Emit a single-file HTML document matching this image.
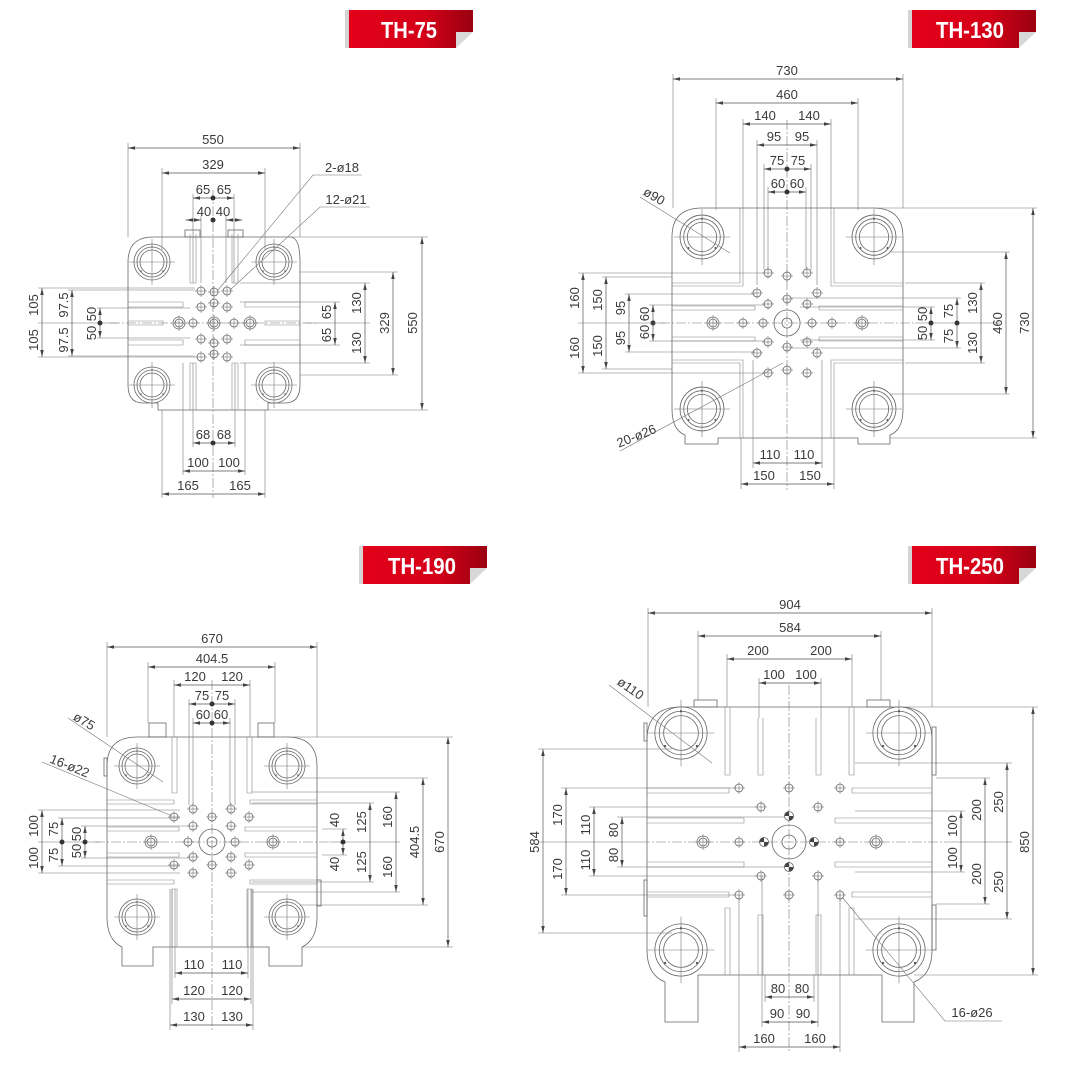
<!DOCTYPE html>
<html><head><meta charset="utf-8"><style>
html,body{margin:0;padding:0;background:#fff}
svg{display:block}
.l{stroke:#666;stroke-width:.8;fill:none}
.e{stroke:#777;stroke-width:.6;fill:none}
.c{stroke:#777;stroke-width:.6;fill:none;stroke-dasharray:10 2 2 2}
.d{stroke:#555;stroke-width:.7;fill:none;marker-start:url(#a);marker-end:url(#a)}
.s{stroke:#888;stroke-width:.6;fill:none}
text.t{font-family:"Liberation Sans",sans-serif;font-size:13px;fill:#3a3a3a;text-anchor:middle}
text.b{font-family:"Liberation Sans",sans-serif;font-weight:bold;font-size:23px;fill:#fff;text-anchor:middle}
.nv *{vector-effect:non-scaling-stroke}
</style></head><body>
<svg width="1070" height="1079" viewBox="0 0 1070 1079" xmlns="http://www.w3.org/2000/svg">
<defs>
<marker id="a" viewBox="0 0 10 10" refX="10" refY="5" markerWidth="7" markerHeight="7" markerUnits="userSpaceOnUse" orient="auto-start-reverse"><path d="M0,2.5 L10,5 L0,7.5z" fill="#444"/></marker>
<linearGradient id="rg" x1="0" x2="1" y1="0" y2="0"><stop offset="0" stop-color="#e2001a"/><stop offset=".6" stop-color="#d40018"/><stop offset="1" stop-color="#9a0010"/></linearGradient>
<g id="bn"><rect x="0" y="0" width="4" height="38" fill="#d4d4d4"/><polygon points="4,0 128,0 128,22 111,22 111,38 4,38" fill="url(#rg)"/><polygon points="111,22 128,22 111,38" fill="#d8d8d8"/></g>
<g id="tb" class="nv"><circle r="18" class="l"/><circle r="15" class="l"/><circle r="12" class="l"/><line x1="-23" x2="23" class="e"/><line y1="-23" y2="23" class="e"/><circle cx="-11" cy="9" r=".8" fill="#555"/><circle cx="11" cy="9" r=".8" fill="#555"/><circle cx="0" cy="-15" r=".8" fill="#555"/></g>
<g id="h"><circle r="4" class="l"/><line x1="-6" x2="6" class="e"/><line y1="-6" y2="6" class="e"/></g>
<g id="bo"><circle r="6" class="l"/><circle r="4" class="l"/><line x1="-8" x2="8" class="e"/><line y1="-8" y2="8" class="e"/></g>
<g id="q"><circle r="4.5" class="l"/><path d="M0,0 L4.5,0 A4.5,4.5 0 0 1 0,4.5Z M0,0 L-4.5,0 A4.5,4.5 0 0 1 0,-4.5Z" fill="#444"/></g>
</defs>

<!-- ================= TH-75 ================= -->
<use href="#bn" x="345" y="10"/>
<text class="b" x="409" y="38" textLength="56" lengthAdjust="spacingAndGlyphs">TH-75</text>
<path class="l" d="M153,237 H290 Q300,237 300,262 V385 Q300,403 285,403 H268 V410 H158 V403 H143 Q128,403 128,385 V262 Q128,237 153,237 Z"/>
<rect class="l" x="185" y="230" width="15" height="7"/><rect class="l" x="228" y="230" width="15" height="7"/>
<path class="s" d="M190,234 V283 H196 V234 M232,234 V283 H238 V234 M190,410 V363 H196 V410 M232,410 V363 H238 V410"/>
<path class="s" d="M128,302 H183 V307 H128 M128,340 H183 V345 H128 M128,321 H163 V325 H128 M300,302 H245 V307 H300 M300,340 H245 V345 H300 M300,321 H265 V325 H300"/>
<use href="#tb" x="152" y="262"/><use href="#tb" x="274" y="262"/><use href="#tb" x="152" y="385"/><use href="#tb" x="274" y="385"/>
<line class="c" x1="213" y1="190" x2="213" y2="498"/><line class="c" x1="110" y1="323" x2="318" y2="323"/>
<use href="#h" x="201" y="291"/><use href="#h" x="214" y="292"/><use href="#h" x="227" y="291"/>
<use href="#h" x="201" y="307"/><use href="#h" x="214" y="303"/><use href="#h" x="227" y="307"/>
<use href="#bo" x="179" y="323"/><use href="#h" x="193" y="323"/><use href="#bo" x="214" y="323"/><use href="#h" x="234" y="323"/><use href="#bo" x="250" y="323"/>
<use href="#h" x="201" y="339"/><use href="#h" x="214" y="343"/><use href="#h" x="227" y="339"/>
<use href="#h" x="201" y="357"/><use href="#h" x="214" y="354"/><use href="#h" x="227" y="357"/>
<path class="e" d="M128,237 V143 M300,237 V143 M162,250 V168 M265,250 V168 M193,283 V194 M234,283 V194 M201,283 V216 M226,283 V216 M185,220 H201 M226,220 H242"/>
<line class="d" x1="128" y1="148" x2="300" y2="148"/><text class="t" x="213" y="144">550</text>
<line class="d" x1="162" y1="173" x2="265" y2="173"/><text class="t" x="213" y="169">329</text>
<line class="d" x1="193" y1="198" x2="234" y2="198"/><circle cx="213" cy="198" r="2.5" fill="#333"/><text class="t" x="203" y="194">65</text><text class="t" x="224" y="194">65</text>
<line class="d" x1="186" y1="220" x2="201" y2="220"/><line class="d" x1="242" y1="220" x2="226" y2="220"/><circle cx="213" cy="220" r="2.5" fill="#333"/><text class="t" x="204" y="216">40</text><text class="t" x="223" y="216">40</text>
<path class="e" d="M162,410 V498 M265,410 V498 M183,363 V475 M245,363 V475 M193,363 V447 M235,363 V447"/>
<line class="d" x1="193" y1="443" x2="235" y2="443"/><circle cx="213" cy="443" r="2.5" fill="#333"/><text class="t" x="203" y="439">68</text><text class="t" x="224" y="439">68</text>
<line class="d" x1="183" y1="471" x2="245" y2="471"/><text class="t" x="198" y="467">100</text><text class="t" x="229" y="467">100</text>
<line class="d" x1="162" y1="494" x2="265" y2="494"/><text class="t" x="188" y="490">165</text><text class="t" x="240" y="490">165</text>
<path class="e" d="M290,237 H428 M300,272 H398 M240,283 H370 M240,302 H340 M305,323 H370 M240,345 H340 M240,363 H370 M300,375 H398 M268,410 H428"/>
<line class="d" x1="422" y1="237" x2="422" y2="410"/><text class="t" transform="translate(417,323) rotate(-90)">550</text>
<line class="d" x1="393" y1="272" x2="393" y2="375"/><text class="t" transform="translate(389,323) rotate(-90)">329</text>
<line class="d" x1="365" y1="283" x2="365" y2="363"/><text class="t" transform="translate(361,303) rotate(-90)">130</text><text class="t" transform="translate(361,343) rotate(-90)">130</text>
<line class="d" x1="335" y1="302" x2="335" y2="345"/><text class="t" transform="translate(331,312) rotate(-90)">65</text><text class="t" transform="translate(331,335) rotate(-90)">65</text>
<path class="e" d="M38,288 H195 M38,357 H195 M68,290 H195 M68,356 H195 M97,308 H190 M97,338 H190 M38,323 H118"/>
<line class="d" x1="42" y1="288" x2="42" y2="357"/><text class="t" transform="translate(38,305) rotate(-90)">105</text><text class="t" transform="translate(38,340) rotate(-90)">105</text>
<line class="d" x1="72" y1="290" x2="72" y2="356"/><text class="t" transform="translate(68,305) rotate(-90)">97.5</text><text class="t" transform="translate(68,340) rotate(-90)">97.5</text>
<line class="d" x1="100" y1="308" x2="100" y2="338"/><circle cx="100" cy="323" r="2.5" fill="#333"/><text class="t" transform="translate(96,314) rotate(-90)">50</text><text class="t" transform="translate(96,333) rotate(-90)">50</text>
<path class="e" d="M362,175 H313 L218,290 M370,207 H320 L230,290"/>
<text class="t" x="342" y="172">2-ø18</text><text class="t" x="346" y="204">12-ø21</text>

<!-- ================= TH-130 ================= -->
<use href="#bn" x="908" y="10"/>
<text class="b" x="970" y="38" textLength="68" lengthAdjust="spacingAndGlyphs">TH-130</text>
<path class="l" d="M702,208 H873 Q903,208 903,237 V409 Q903,430 890,435 V444 H858 V438 H718 V444 H685 V435 Q672,430 672,409 V237 Q672,208 702,208 Z"/>
<path class="s" d="M740,208 V283 H672 M743,208 V286 H672 M834,208 V283 H903 M831,208 V286 H903 M740,438 V363 H672 M743,438 V360 H672 M834,438 V363 H903 M831,438 V360 H903"/>
<path class="s" d="M672,306 H755 V310 H672 M672,337 H755 V341 H672 M903,306 H819 V310 H903 M903,337 H819 V341 H903"/>
<g transform="translate(702,237) scale(1.22)"><use href="#tb"/></g><g transform="translate(874,237) scale(1.22)"><use href="#tb"/></g>
<g transform="translate(702,409) scale(1.22)"><use href="#tb"/></g><g transform="translate(874,409) scale(1.22)"><use href="#tb"/></g>
<line class="c" x1="787" y1="120" x2="787" y2="490"/><line class="c" x1="660" y1="323" x2="915" y2="323"/>
<circle cx="787" cy="323" r="13" class="l"/><circle cx="787" cy="323" r="5" class="l"/>
<use href="#h" x="768" y="273"/><use href="#h" x="787" y="276"/><use href="#h" x="807" y="273"/>
<use href="#h" x="757" y="293"/><use href="#h" x="817" y="293"/>
<use href="#h" x="768" y="304"/><use href="#h" x="787" y="299"/><use href="#h" x="807" y="304"/>
<use href="#h" x="743" y="323"/><use href="#h" x="763" y="323"/><use href="#h" x="812" y="323"/><use href="#h" x="832" y="323"/>
<use href="#bo" x="713" y="323"/><use href="#bo" x="862" y="323"/>
<use href="#h" x="768" y="342"/><use href="#h" x="787" y="347"/><use href="#h" x="807" y="342"/>
<use href="#h" x="757" y="353"/><use href="#h" x="817" y="353"/>
<use href="#h" x="768" y="373"/><use href="#h" x="787" y="370"/><use href="#h" x="807" y="373"/>
<path class="e" d="M673,208 V74 M903,208 V74 M716,210 V98 M858,210 V98 M743,208 V119 M831,208 V119 M757,285 V140 M817,285 V140 M764,270 V164 M811,270 V164 M768,270 V187 M806,270 V187"/>
<line class="d" x1="673" y1="79" x2="903" y2="79"/><text class="t" x="787" y="75">730</text>
<line class="d" x1="716" y1="103" x2="858" y2="103"/><text class="t" x="787" y="99">460</text>
<line class="d" x1="743" y1="124" x2="831" y2="124"/><text class="t" x="765" y="120">140</text><text class="t" x="809" y="120">140</text>
<line class="d" x1="757" y1="145" x2="817" y2="145"/><text class="t" x="774" y="141">95</text><text class="t" x="802" y="141">95</text>
<line class="d" x1="764" y1="169" x2="811" y2="169"/><circle cx="787" cy="169" r="2.5" fill="#333"/><text class="t" x="777" y="165">75</text><text class="t" x="798" y="165">75</text>
<line class="d" x1="768" y1="192" x2="806" y2="192"/><circle cx="787" cy="192" r="2.5" fill="#333"/><text class="t" x="778" y="188">60</text><text class="t" x="797" y="188">60</text>
<path class="e" d="M741,438 V489 M834,438 V489 M753,360 V468 M822,360 V468"/>
<line class="d" x1="753" y1="463" x2="822" y2="463"/><text class="t" x="770" y="459">110</text><text class="t" x="804" y="459">110</text>
<line class="d" x1="741" y1="484" x2="834" y2="484"/><text class="t" x="764" y="480">150</text><text class="t" x="810" y="480">150</text>
<path class="e" d="M873,208 H1037 M890,438 H1037 M890,252 H1010 M890,394 H1010 M905,283 H985 M905,363 H985 M790,298 H961 M790,348 H961 M800,307 H935 M800,340 H935 M915,323 H1000"/>
<line class="d" x1="1033" y1="208" x2="1033" y2="438"/><text class="t" transform="translate(1029,323) rotate(-90)">730</text>
<line class="d" x1="1006" y1="252" x2="1006" y2="394"/><text class="t" transform="translate(1002,323) rotate(-90)">460</text>
<line class="d" x1="981" y1="283" x2="981" y2="363"/><text class="t" transform="translate(977,303) rotate(-90)">130</text><text class="t" transform="translate(977,343) rotate(-90)">130</text>
<line class="d" x1="957" y1="298" x2="957" y2="348"/><circle cx="957" cy="323" r="2.5" fill="#333"/><text class="t" transform="translate(953,311) rotate(-90)">75</text><text class="t" transform="translate(953,336) rotate(-90)">75</text>
<line class="d" x1="931" y1="307" x2="931" y2="340"/><circle cx="931" cy="323" r="2.5" fill="#333"/><text class="t" transform="translate(927,314) rotate(-90)">50</text><text class="t" transform="translate(927,333) rotate(-90)">50</text>
<path class="e" d="M578,273 H765 M578,373 H765 M602,277 H672 M602,369 H672 M625,294 H755 M625,352 H755 M649,305 H765 M649,341 H765"/>
<line class="d" x1="583" y1="273" x2="583" y2="373"/><text class="t" transform="translate(579,298) rotate(-90)">160</text><text class="t" transform="translate(579,348) rotate(-90)">160</text>
<line class="d" x1="606" y1="277" x2="606" y2="369"/><text class="t" transform="translate(602,300) rotate(-90)">150</text><text class="t" transform="translate(602,346) rotate(-90)">150</text>
<line class="d" x1="629" y1="294" x2="629" y2="352"/><text class="t" transform="translate(625,308) rotate(-90)">95</text><text class="t" transform="translate(625,338) rotate(-90)">95</text>
<line class="d" x1="653" y1="305" x2="653" y2="341"/><circle cx="653" cy="323" r="2.5" fill="#333"/><text class="t" transform="translate(649,314) rotate(-90)">60</text><text class="t" transform="translate(649,332) rotate(-90)">60</text>
<line class="e" x1="578" y1="323" x2="665" y2="323"/>
<path class="e" d="M640,197 L730,253 M620,451 L783,363"/>
<text class="t" transform="translate(652,200) rotate(30)">ø90</text>
<text class="t" transform="translate(638,440) rotate(-22)">20-ø26</text>

<!-- ================= TH-190 ================= -->
<use href="#bn" x="359" y="546"/>
<text class="b" x="422" y="574" textLength="68" lengthAdjust="spacingAndGlyphs">TH-190</text>
<path class="l" d="M137,737 H287 Q317,737 317,766 V917 Q317,940 302,947 V966 H269 V947 H153 V966 H122 V947 Q107,940 107,917 V766 Q107,737 137,737 Z"/>
<rect class="l" x="149" y="723" width="17" height="14"/><rect class="l" x="258" y="723" width="16" height="14"/>
<rect class="l" x="104" y="758" width="3" height="18"/><rect class="l" x="317" y="880" width="4" height="26"/>
<path class="s" d="M172,737 V793 H177 V737 M247,737 V793 H252 V737 M172,947 V889 H177 V947 M247,947 V889 H252 V947"/>
<path class="s" d="M107,800 H174 V804 H107 M107,827 H179 V831 H107 M107,853 H179 V857 H107 M107,880 H174 V884 H107 M317,800 H250 V804 H317 M317,827 H245 V831 H317 M317,853 H245 V857 H317 M317,880 H250 V884 H317"/>
<use href="#tb" x="137" y="766"/><use href="#tb" x="287" y="766"/><use href="#tb" x="137" y="917"/><use href="#tb" x="287" y="917"/>
<line class="c" x1="212" y1="680" x2="212" y2="1030"/><line class="c" x1="95" y1="842" x2="330" y2="842"/>
<circle cx="212" cy="842" r="13" class="l"/><circle cx="212" cy="842" r="5" class="l"/>
<use href="#h" x="193" y="809"/><use href="#h" x="231" y="809"/>
<use href="#h" x="174" y="817"/><use href="#h" x="212" y="817"/><use href="#h" x="249" y="817"/>
<use href="#h" x="193" y="826"/><use href="#h" x="231" y="826"/>
<use href="#h" x="188" y="842"/><use href="#h" x="235" y="842"/><use href="#bo" x="151" y="842"/><use href="#bo" x="273" y="842"/>
<use href="#h" x="193" y="857"/><use href="#h" x="231" y="857"/>
<use href="#h" x="174" y="865"/><use href="#h" x="212" y="865"/><use href="#h" x="249" y="865"/>
<use href="#h" x="193" y="873"/><use href="#h" x="231" y="873"/>
<path class="e" d="M107,737 V642 M317,737 V642 M148,723 V662 M275,723 V662 M174,737 V680 M250,737 V680 M189,805 V699 M235,805 V699 M193,805 V718 M230,805 V718"/>
<line class="d" x1="107" y1="647" x2="317" y2="647"/><text class="t" x="212" y="643">670</text>
<line class="d" x1="148" y1="667" x2="275" y2="667"/><text class="t" x="212" y="663">404.5</text>
<line class="d" x1="174" y1="685" x2="250" y2="685"/><text class="t" x="195" y="681">120</text><text class="t" x="232" y="681">120</text>
<line class="d" x1="189" y1="704" x2="235" y2="704"/><circle cx="212" cy="704" r="2.5" fill="#333"/><text class="t" x="202" y="700">75</text><text class="t" x="222" y="700">75</text>
<line class="d" x1="193" y1="723" x2="230" y2="723"/><circle cx="212" cy="723" r="2.5" fill="#333"/><text class="t" x="203" y="719">60</text><text class="t" x="221" y="719">60</text>
<path class="e" d="M170,889 V1030 M253,889 V1030 M172,889 V1004 M251,889 V1004 M175,889 V978 M248,889 V978"/>
<line class="d" x1="175" y1="973" x2="248" y2="973"/><text class="t" x="194" y="969">110</text><text class="t" x="232" y="969">110</text>
<line class="d" x1="172" y1="999" x2="251" y2="999"/><text class="t" x="194" y="995">120</text><text class="t" x="232" y="995">120</text>
<line class="d" x1="170" y1="1025" x2="253" y2="1025"/><text class="t" x="194" y="1021">130</text><text class="t" x="232" y="1021">130</text>
<path class="e" d="M287,737 H453 M302,947 H453 M300,778 H428 M300,905 H428 M252,792 H400 M252,892 H400 M252,803 H374 M252,882 H374 M322,829 H347 M322,855 H347 M330,842 H400"/>
<line class="d" x1="448" y1="737" x2="448" y2="947"/><text class="t" transform="translate(444,842) rotate(-90)">670</text>
<line class="d" x1="423" y1="778" x2="423" y2="905"/><text class="t" transform="translate(419,842) rotate(-90)">404.5</text>
<line class="d" x1="396" y1="792" x2="396" y2="892"/><text class="t" transform="translate(392,817) rotate(-90)">160</text><text class="t" transform="translate(392,867) rotate(-90)">160</text>
<line class="d" x1="370" y1="803" x2="370" y2="882"/><text class="t" transform="translate(366,822) rotate(-90)">125</text><text class="t" transform="translate(366,862) rotate(-90)">125</text>
<line class="d" x1="343" y1="829" x2="343" y2="855"/><circle cx="343" cy="842" r="2.5" fill="#333"/><text class="t" transform="translate(339,820) rotate(-90)">40</text><text class="t" transform="translate(339,864) rotate(-90)">40</text>
<path class="e" d="M38,810 H180 M38,873 H180 M58,818 H180 M58,866 H180 M81,826 H190 M81,858 H190 M38,842 H100"/>
<line class="d" x1="42" y1="810" x2="42" y2="873"/><text class="t" transform="translate(38,826) rotate(-90)">100</text><text class="t" transform="translate(38,858) rotate(-90)">100</text>
<line class="d" x1="62" y1="818" x2="62" y2="866"/><circle cx="62" cy="842" r="2.5" fill="#333"/><text class="t" transform="translate(58,829) rotate(-90)">75</text><text class="t" transform="translate(58,855) rotate(-90)">75</text>
<line class="d" x1="85" y1="826" x2="85" y2="858"/><circle cx="85" cy="842" r="2.5" fill="#333"/><text class="t" transform="translate(81,834) rotate(-90)">50</text><text class="t" transform="translate(81,851) rotate(-90)">50</text>
<path class="e" d="M68,718 L163,782 M42,762 L172,816"/>
<text class="t" transform="translate(82,725) rotate(30)">ø75</text>
<text class="t" transform="translate(68,770) rotate(22)">16-ø22</text>

<!-- ================= TH-250 ================= -->
<use href="#bn" x="908" y="546"/>
<text class="b" x="970" y="574" textLength="68" lengthAdjust="spacingAndGlyphs">TH-250</text>
<path class="l" d="M681,707 H899 Q932,707 932,740 V950 Q932,975 914,982 V1022 H882 V975 H698 V1022 H665 V982 Q647,975 647,950 V740 Q647,707 681,707 Z"/>
<rect class="l" x="694" y="700" width="23" height="7"/><rect class="l" x="867" y="700" width="23" height="7"/>
<rect class="l" x="644" y="723" width="3" height="18"/><rect class="l" x="932" y="727" width="4" height="48"/>
<rect class="l" x="644" y="880" width="3" height="36"/><rect class="l" x="932" y="905" width="4" height="45"/>
<path class="s" d="M725,707 V775 H730 V707 M758,718 V775 H763 V718 M816,718 V775 H821 V718 M849,707 V775 H854 V707 M725,975 V908 H730 V975 M758,975 V915 H763 V975 M816,975 V915 H821 V975 M849,975 V908 H854 V975"/>
<path class="s" d="M647,788 H729 V793 H647 M647,818 H744 V823 H647 M647,862 H744 V867 H647 M647,892 H729 V897 H647 M932,788 H852 V793 H932 M932,818 H835 V823 H932 M932,862 H835 V867 H932 M932,892 H852 V897 H932"/>
<g transform="translate(681,733) scale(1.45)"><use href="#tb"/></g><g transform="translate(899,733) scale(1.45)"><use href="#tb"/></g>
<g transform="translate(681,950) scale(1.45)"><use href="#tb"/></g><g transform="translate(899,950) scale(1.45)"><use href="#tb"/></g>
<line class="c" x1="789" y1="685" x2="789" y2="1052"/><line class="c" x1="640" y1="842" x2="945" y2="842"/>
<circle cx="789" cy="842" r="17" class="l"/><circle cx="789" cy="842" r="7" class="l"/>
<use href="#h" x="739" y="788"/><use href="#h" x="789" y="788"/><use href="#h" x="840" y="788"/>
<use href="#h" x="761" y="807"/><use href="#h" x="818" y="807"/>
<use href="#q" x="789" y="816"/><use href="#q" x="764" y="842"/><use href="#q" x="814" y="842"/><use href="#q" x="789" y="867"/>
<use href="#h" x="739" y="842"/><use href="#h" x="840" y="842"/><use href="#bo" x="703" y="842"/><use href="#bo" x="876" y="842"/>
<use href="#h" x="761" y="876"/><use href="#h" x="818" y="876"/>
<use href="#h" x="739" y="895"/><use href="#h" x="789" y="895"/><use href="#h" x="840" y="895"/>
<path class="e" d="M648,707 V608 M932,707 V608 M698,700 V631 M881,700 V631 M727,707 V654 M852,707 V654 M759,718 V678 M821,718 V678"/>
<line class="d" x1="648" y1="613" x2="932" y2="613"/><text class="t" x="790" y="609">904</text>
<line class="d" x1="698" y1="636" x2="881" y2="636"/><text class="t" x="790" y="632">584</text>
<line class="d" x1="727" y1="659" x2="852" y2="659"/><text class="t" x="758" y="655">200</text><text class="t" x="821" y="655">200</text>
<line class="d" x1="759" y1="683" x2="821" y2="683"/><text class="t" x="774" y="679">100</text><text class="t" x="806" y="679">100</text>
<path class="e" d="M739,895 V1052 M840,895 V1052 M762,876 V1027 M818,876 V1027 M765,975 V1002 M814,975 V1002"/>
<line class="d" x1="765" y1="997" x2="814" y2="997"/><text class="t" x="778" y="993">80</text><text class="t" x="802" y="993">80</text>
<line class="d" x1="762" y1="1022" x2="818" y2="1022"/><text class="t" x="777" y="1018">90</text><text class="t" x="803" y="1018">90</text>
<line class="d" x1="739" y1="1047" x2="840" y2="1047"/><text class="t" x="764" y="1043">160</text><text class="t" x="815" y="1043">160</text>
<path class="e" d="M899,707 H1038 M914,975 H1038 M855,763 H1012 M855,919 H1012 M936,778 H990 M936,904 H990 M855,811 H965 M855,872 H965 M945,842 H1012"/>
<line class="d" x1="1033" y1="707" x2="1033" y2="975"/><text class="t" transform="translate(1029,842) rotate(-90)">850</text>
<line class="d" x1="1007" y1="763" x2="1007" y2="919"/><text class="t" transform="translate(1003,802) rotate(-90)">250</text><text class="t" transform="translate(1003,882) rotate(-90)">250</text>
<line class="d" x1="985" y1="778" x2="985" y2="904"/><text class="t" transform="translate(981,810) rotate(-90)">200</text><text class="t" transform="translate(981,874) rotate(-90)">200</text>
<line class="d" x1="961" y1="811" x2="961" y2="872"/><text class="t" transform="translate(957,826) rotate(-90)">100</text><text class="t" transform="translate(957,858) rotate(-90)">100</text>
<path class="e" d="M538,749 H672 M538,933 H672 M561,788 H735 M561,895 H735 M589,807 H757 M589,876 H757 M617,817 H785 M617,867 H785 M538,842 H640"/>
<line class="d" x1="543" y1="749" x2="543" y2="933"/><text class="t" transform="translate(539,842) rotate(-90)">584</text>
<line class="d" x1="566" y1="788" x2="566" y2="895"/><text class="t" transform="translate(562,815) rotate(-90)">170</text><text class="t" transform="translate(562,869) rotate(-90)">170</text>
<line class="d" x1="594" y1="807" x2="594" y2="876"/><text class="t" transform="translate(590,825) rotate(-90)">110</text><text class="t" transform="translate(590,860) rotate(-90)">110</text>
<line class="d" x1="622" y1="817" x2="622" y2="867"/><text class="t" transform="translate(618,830) rotate(-90)">80</text><text class="t" transform="translate(618,855) rotate(-90)">80</text>
<path class="e" d="M609,685 L712,763 M1002,1021 H945 L842,897"/>
<text class="t" transform="translate(628,692) rotate(35)">ø110</text>
<text class="t" x="972" y="1017">16-ø26</text>
</svg>
</body></html>
